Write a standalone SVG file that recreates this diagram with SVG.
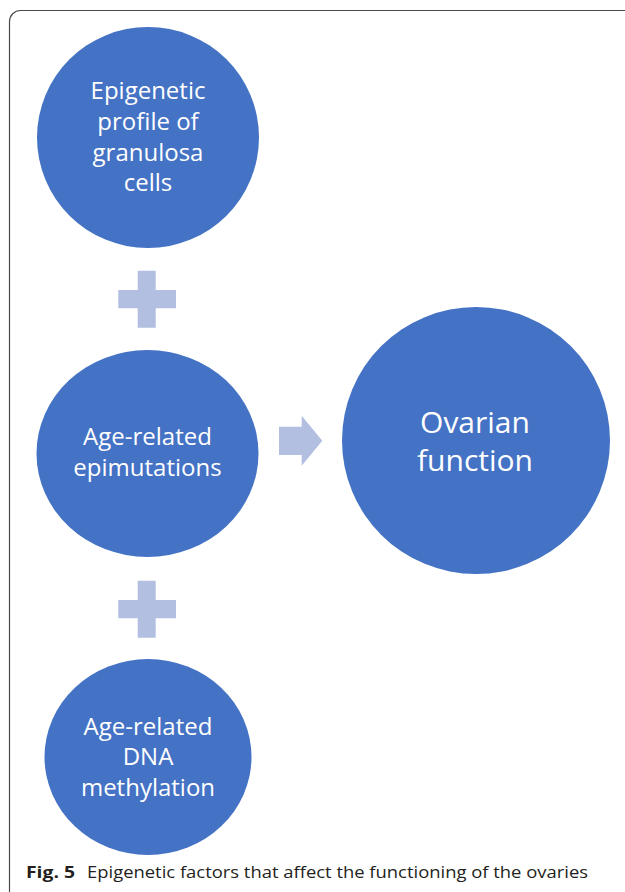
<svg xmlns="http://www.w3.org/2000/svg" width="625" height="892" viewBox="0 0 625 892">
<style>
.node{fill:#4472C4;}
.lbl{fill:#ffffff;font-family:"Open Sans","Noto Sans",sans-serif;font-size:24px;text-anchor:middle;}
.big{font-size:30px;}
.sym{fill:#B2BFE0;}
.cap{fill:#231F20;font-family:"Open Sans","Noto Sans",sans-serif;font-size:16px;}
</style>
<rect x="0" y="0" width="625" height="892" fill="#ffffff"/>
<rect x="9.5" y="10.5" width="660" height="920" rx="11" ry="11" fill="none" stroke="#4a4a4a" stroke-width="1.2"/>
<g id="node-epigenetic-profile">
<ellipse class="node" cx="148" cy="137.5" rx="111" ry="110.5"/>
<text class="lbl" x="148" y="99">Epigenetic</text>
<text class="lbl" x="148" y="130">profile of</text>
<text class="lbl" x="148" y="161">granulosa</text>
<text class="lbl" x="148" y="191">cells</text>
</g>
<g id="node-epimutations">
<ellipse class="node" cx="147.5" cy="453.5" rx="111" ry="103.5"/>
<text class="lbl" x="147.5" y="445">Age-related</text>
<text class="lbl" x="147.5" y="476">epimutations</text>
</g>
<g id="node-dna-methylation">
<ellipse class="node" cx="148" cy="757" rx="103.5" ry="98"/>
<text class="lbl" x="148" y="734.5">Age-related</text>
<text class="lbl" x="148" y="765">DNA</text>
<text class="lbl" x="148" y="795.5">methylation</text>
</g>
<g id="node-ovarian-function">
<ellipse class="node" cx="476" cy="440.5" rx="134" ry="133.5"/>
<text class="lbl big" x="475" y="432.5">Ovarian</text>
<text class="lbl big" x="475" y="470.5">function</text>
</g>
<g id="connectors">
<path class="sym" d="M137.7,270.7 H155.7 V290 H176 V308.3 H155.7 V327.7 H137.7 V308.3 H118.3 V290 H137.7 Z"/>
<path class="sym" d="M137.7,580.7 H155.7 V600 H176 V618.3 H155.7 V637.7 H137.7 V618.3 H118.3 V600 H137.7 Z"/>
<path class="sym" d="M279,426.7 H301.7 V415.7 L322.3,440.7 L301.7,465.7 V455 H279 Z"/>
</g>
<text class="cap" x="26" y="877.5"><tspan font-weight="bold" textLength="49" lengthAdjust="spacingAndGlyphs">Fig. 5</tspan><tspan x="87" textLength="501" lengthAdjust="spacingAndGlyphs">Epigenetic factors that affect the functioning of the ovaries</tspan></text>
</svg>
